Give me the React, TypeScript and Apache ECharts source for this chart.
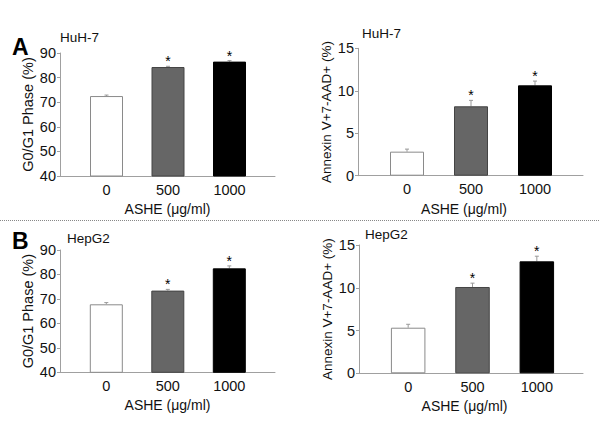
import React, { useEffect, useRef } from "react";
import * as echarts from "echarts";

// ---- data ----
const categories = ["0", "500", "1000"];
const huhG1 = [72.5, 84.3, 86.5];
const huhG1Err = [0.4, 0.3, 0.4];
const huhApop = [2.83, 8.17, 10.64];
const huhApopErr = [0.3, 0.7, 0.5];
const hepG1 = [67.8, 73.4, 82.5];
const hepG1Err = [0.7, 0.5, 1.0];
const hepApop = [5.33, 10.09, 13.09];
const hepApopErr = [0.4, 0.45, 0.6];
const significant = [false, true, true];
const g1Axis = { min: 40, max: 90, interval: 10 };
const apopAxis = { min: 0, max: 15, interval: 5 };
const xName = "ASHE (μg/ml)";
const g1Name = "G0/G1 Phase (%)";
const apopName = "Annexin V+7-AAD+ (%)";

const barColors = ["#ffffff", "#666666", "#000000"];
const barBorders = ["#8a8a8a", "#444444", "#000000"];
const FONT = "'Liberation Sans', Arial, Helvetica, sans-serif";
const AXIS_COLOR = "#a0a0a0";

const panels = [
  { values: huhG1, errs: huhG1Err, axis: g1Axis, name: g1Name, axisX: 60, lineEnd: 275, top: 53, h: 123, barLeft: 75.75, barW: 184.5, barWidth: 33, nameSize: 14.5, xPad: 0 },
  { values: huhApop, errs: huhApopErr, axis: apopAxis, name: apopName, axisX: 358, lineEnd: 583, top: 48.3, h: 127.4, barLeft: 375, barW: 192, barWidth: 34, nameSize: 13.5, xPad: 13 },
  { values: hepG1, errs: hepG1Err, axis: g1Axis, name: g1Name, axisX: 60, lineEnd: 275, top: 250, h: 122.3, barLeft: 75.55, barW: 184.5, barWidth: 33, nameSize: 14.5, xPad: 0 },
  { values: hepApop, errs: hepApopErr, axis: apopAxis, name: apopName, axisX: 359, lineEnd: 583, top: 245, h: 128.3, barLeft: 376, barW: 193, barWidth: 34.5, nameSize: 13.5, xPad: 13 },
];

function buildOption() {
  const grid: any[] = [];
  const xAxis: any[] = [];
  const yAxis: any[] = [];
  const series: any[] = [];

  panels.forEach((p, i) => {
    grid.push({ left: p.axisX, top: p.top, width: p.lineEnd - p.axisX, height: p.h });
    grid.push({ left: p.barLeft, top: p.top, width: p.barW, height: p.h });

    xAxis.push({
      gridIndex: 2 * i,
      type: "value",
      min: 0,
      max: 1,
      axisLine: { show: true, lineStyle: { color: AXIS_COLOR, width: 1 } },
      axisTick: { show: false },
      axisLabel: { show: false },
      splitLine: { show: false },
      name: xName,
      nameLocation: "middle",
      nameGap: 26,
      nameTextStyle: { fontSize: 14, color: "#111", fontFamily: FONT, padding: [0, p.xPad, 0, 0] },
    });
    xAxis.push({
      gridIndex: 2 * i + 1,
      type: "category",
      data: categories,
      axisLine: { show: false },
      axisTick: { show: false },
      axisLabel: { margin: 6, fontSize: 14.5, color: "#111", fontFamily: FONT },
    });
    yAxis.push({
      gridIndex: 2 * i,
      type: "value",
      min: p.axis.min,
      max: p.axis.max,
      interval: p.axis.interval,
      axisLine: { show: true, lineStyle: { color: AXIS_COLOR, width: 1 } },
      axisTick: { show: true, length: 3, lineStyle: { color: AXIS_COLOR } },
      axisLabel: { margin: 4, fontSize: 14.5, color: "#111", fontFamily: FONT },
      splitLine: { show: false },
      name: p.name,
      nameLocation: "middle",
      nameGap: 24,
      nameTextStyle: { fontSize: p.nameSize, color: "#111", fontFamily: FONT },
    });
    yAxis.push({
      gridIndex: 2 * i + 1,
      type: "value",
      min: p.axis.min,
      max: p.axis.max,
      show: false,
    });

    series.push({
      type: "bar",
      xAxisIndex: 2 * i + 1,
      yAxisIndex: 2 * i + 1,
      barWidth: p.barWidth,
      data: p.values.map((v, k) => ({
        value: v,
        itemStyle: { color: barColors[k], borderColor: barBorders[k], borderWidth: 1 },
      })),
    });
    series.push({
      type: "custom",
      xAxisIndex: 2 * i + 1,
      yAxisIndex: 2 * i + 1,
      data: p.values.map((v, k) => [k, v, p.errs[k], significant[k] ? 1 : 0]),
      renderItem: (params: any, api: any) => {
        const x = api.value(0);
        const m = api.value(1);
        const e = api.value(2);
        const s = api.value(3);
        const base = api.coord([x, m]);
        const top = api.coord([x, m + e]);
        const children: any[] = [
          { type: "line", shape: { x1: base[0], y1: base[1], x2: top[0], y2: top[1] }, style: { stroke: "#999", lineWidth: 1 } },
          { type: "line", shape: { x1: top[0] - 2, y1: top[1], x2: top[0] + 2, y2: top[1] }, style: { stroke: "#999", lineWidth: 1 } },
        ];
        if (s) {
          children.push({
            type: "text",
            x: top[0],
            y: top[1] - 5,
            style: { text: "*", fontSize: 14, fill: "#000", align: "center", verticalAlign: "middle", fontFamily: FONT },
          });
        }
        return { type: "group", children };
      },
    });
  });

  const graphic: any[] = [
    { type: "text", x: 12, y: 47, style: { text: "A", fontSize: 23, fontWeight: "bold", fill: "#000", fontFamily: FONT, verticalAlign: "middle" } },
    { type: "text", x: 60, y: 37, style: { text: "HuH-7", fontSize: 13.5, fill: "#111", fontFamily: FONT, verticalAlign: "middle" } },
    { type: "text", x: 362, y: 33, style: { text: "HuH-7", fontSize: 13.5, fill: "#111", fontFamily: FONT, verticalAlign: "middle" } },
    { type: "text", x: 12, y: 241, style: { text: "B", fontSize: 23, fontWeight: "bold", fill: "#000", fontFamily: FONT, verticalAlign: "middle" } },
    { type: "text", x: 67, y: 238, style: { text: "HepG2", fontSize: 13.5, fill: "#111", fontFamily: FONT, verticalAlign: "middle" } },
    { type: "text", x: 365, y: 234, style: { text: "HepG2", fontSize: 13.5, fill: "#111", fontFamily: FONT, verticalAlign: "middle" } },
    { type: "line", shape: { x1: 0, y1: 220.5, x2: 600, y2: 220.5 }, style: { stroke: "#888", lineWidth: 1, lineDash: [1, 1] } },
  ];

  return {
    animation: false,
    backgroundColor: "#ffffff",
    textStyle: { fontFamily: FONT },
    grid,
    xAxis,
    yAxis,
    series,
    graphic,
  };
}

export default function App() {
  const ref = useRef<HTMLDivElement>(null);
  useEffect(() => {
    if (!ref.current) return;
    const chart = echarts.init(ref.current, undefined, { renderer: "svg" });
    chart.setOption(buildOption() as any);
    return () => chart.dispose();
  }, []);
  return (
    <div
      ref={ref}
      style={{ position: "fixed", left: 0, top: 0, width: 600, height: 423, background: "#fff" }}
    />
  );
}
